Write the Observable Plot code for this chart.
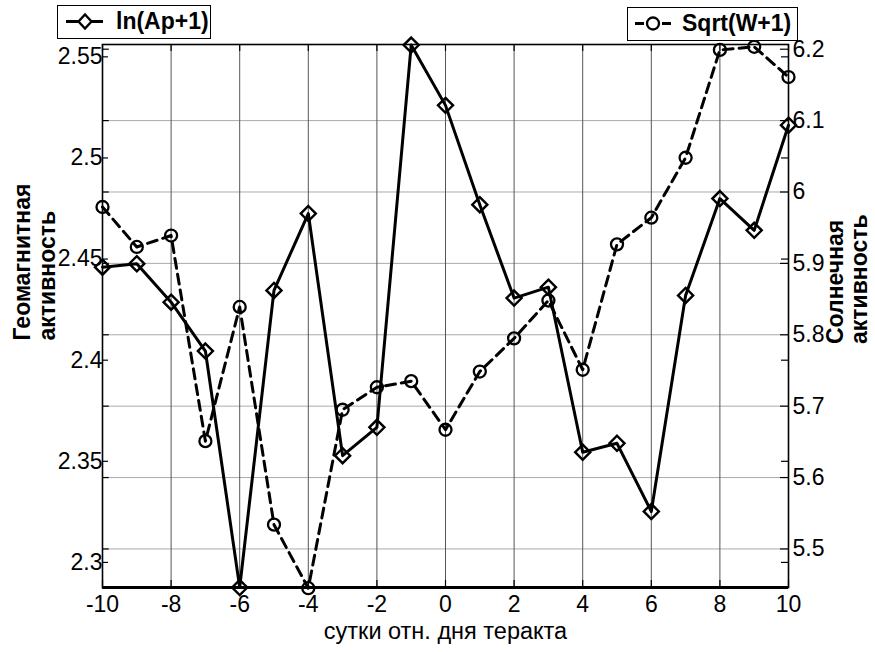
<!DOCTYPE html>
<html>
<head>
<meta charset="utf-8">
<script src="https://cdn.jsdelivr.net/npm/d3@7"></script>
<script src="https://cdn.jsdelivr.net/npm/@observablehq/plot@0.6"></script>
<style>
  html, body { margin: 0; padding: 0; background: #fff; }
  #wrap { position: relative; width: 875px; height: 652px; font-family: "Liberation Sans", Arial, sans-serif; }
  .legend { position: absolute; box-sizing: border-box; border: 1.5px solid #000; background: #fff;
            font-weight: bold; font-size: 23px; white-space: nowrap; }
  .legend svg { position: absolute; left: 0; top: 0; display: block; }
  .legend span { position: absolute; top: 50%; transform: translateY(-52%); }
</style>
</head>
<body>
<div id="wrap"></div>
<script>
// ---- data ----
const days = [-10,-9,-8,-7,-6,-5,-4,-3,-2,-1,0,1,2,3,4,5,6,7,8,9,10];
const lnAp = [2.446,2.4477,2.4287,2.4045,2.2876,2.4345,2.4725,2.3528,2.3668,2.5558,2.526,
              2.4769,2.4307,2.4361,2.3545,2.3589,2.3252,2.4320,2.4799,2.4642,2.5162];
const sqrtW = [5.979,5.923,5.939,5.651,5.839,5.534,5.445,5.695,5.7265,5.735,5.667,
               5.7485,5.795,5.848,5.751,5.9267,5.964,6.048,6.199,6.2034,6.161];
const xTicks = [-10,-8,-6,-4,-2,0,2,4,6,8,10];
const leftTicks = [2.3,2.35,2.4,2.45,2.5,2.55];
const rightTicks = [5.5,5.6,5.7,5.8,5.9,6,6.1,6.2];
const rightGrid = [5.5,5.6,5.7,5.8,5.9,6,6.1];
const leftDomain = [2.2876, 2.5561];
const rightDomain = [5.446, 6.2066];
const xLabel = "сутки отн. дня теракта";
const yLeftLabel = "Геомагнитная\nактивность";
const yRightLabel = "Солнечная\nактивность";
const seriesNames = ["ln(Ap+1)", "Sqrt(W+1)"];

// ---- layout ----
const W = 875, H = 652, mL = 102, mR = 87, mT = 44, mB = 65;
const plotW = W - mL - mR, plotH = H - mT - mB;

// map right-axis values into the left (shared) y scale
const toLeft = r => leftDomain[0] + (r - rightDomain[0]) / (rightDomain[1] - rightDomain[0]) * (leftDomain[1] - leftDomain[0]);
const fromLeft = l => rightDomain[0] + (l - leftDomain[0]) / (leftDomain[1] - leftDomain[0]) * (rightDomain[1] - rightDomain[0]);

const dataL = days.map((d, i) => ({day: d, v: lnAp[i]}));
const dataR = days.map((d, i) => ({day: d, v: toLeft(sqrtW[i])}));

// tick lengths in data units
const tx = 7 * 20 / plotW;
const ty = 7 * (leftDomain[1] - leftDomain[0]) / plotH;
const tyR = 8 * 20 / plotW;

const font = "Liberation Sans, Arial, sans-serif";

const chart = Plot.plot({
  width: W, height: H,
  marginLeft: mL, marginRight: mR, marginTop: mT, marginBottom: mB,
  style: {fontFamily: font, background: "#fff", color: "#000", overflow: "visible"},
  x: {domain: [-10, 10]},
  y: {domain: leftDomain},
  marks: [
    // grid
    Plot.ruleY(rightGrid, {y: d => toLeft(d), stroke: "#aaa", strokeWidth: 1}),
    Plot.ruleX(xTicks.slice(1, -1), {x: d => d, stroke: "#555", strokeWidth: 1}),
    // inward tick marks
    Plot.ruleX(xTicks, {x: d => d, y1: leftDomain[0], y2: leftDomain[0] + ty, stroke: "#000", strokeWidth: 1.2}),
    Plot.ruleX(xTicks, {x: d => d, y1: leftDomain[1], y2: leftDomain[1] - ty, stroke: "#000", strokeWidth: 1.2}),
    Plot.ruleY(leftTicks, {y: d => d, x1: -10, x2: -10 + tx * 0.85, stroke: "#000", strokeWidth: 1.2}),
    Plot.ruleY(leftTicks, {y: d => d, x1: 10, x2: 10 - tx, stroke: "#000", strokeWidth: 1.2}),
    Plot.ruleY(rightTicks, {y: d => toLeft(d), x1: 10, x2: 10 - tyR, stroke: "#000", strokeWidth: 1.2}),
    Plot.ruleY(rightTicks, {y: d => toLeft(d), x1: -10, x2: -10 + tyR * 0.85, stroke: "#000", strokeWidth: 1.2}),
    // frame
    Plot.frame({stroke: "#000", strokeWidth: 1.6}),
    Plot.ruleY([leftDomain[0]], {stroke: "#000", strokeWidth: 3.2}),
    // axes
    Plot.axisX({ticks: xTicks, tickSize: 0, tickPadding: 8, tickFormat: d => String(d), fontSize: 23, label: null}),
    Plot.axisY({anchor: "left", ticks: leftTicks, tickSize: 0, tickPadding: 0, tickFormat: d => String(d), fontSize: 23, label: null}),
    Plot.axisY({anchor: "right", ticks: rightTicks.map(toLeft), tickSize: 0, tickPadding: 4,
                tickFormat: d => String(+fromLeft(d).toFixed(1)), fontSize: 23, label: null}),
    // axis labels
    Plot.text([xLabel], {frameAnchor: "bottom", dy: 51, fontSize: 23.5, text: d => d}),
    Plot.text([yLeftLabel], {frameAnchor: "left", dx: -68, dy: 24.5, rotate: -90, textAnchor: "start",
                             lineHeight: 1.08, fontSize: 23, fontWeight: "bold", text: d => d}),
    Plot.text([yRightLabel], {frameAnchor: "right", dx: 59, dy: 28, rotate: -90, textAnchor: "start",
                              lineHeight: 1.05, fontSize: 23, fontWeight: "bold", text: d => d}),
    // series
    Plot.line(dataR, {x: "day", y: "v", stroke: "#000", strokeWidth: 3, strokeDasharray: "10,6"}),
    Plot.dot(dataR, {x: "day", y: "v", r: 6, stroke: "#000", strokeWidth: 2.3, fill: "none"}),
    Plot.line(dataL, {x: "day", y: "v", stroke: "#000", strokeWidth: 3}),
    Plot.dot(dataL, {x: "day", y: "v", symbol: "diamond2", r: 6.8, stroke: "#000", strokeWidth: 2.4, fill: "none"})
  ]
});

const wrap = document.getElementById("wrap");
wrap.appendChild(chart);

// legends
const ns = "http://www.w3.org/2000/svg";
function el(tag, attrs) {
  const e = document.createElementNS(ns, tag);
  for (const k in attrs) e.setAttribute(k, attrs[k]);
  return e;
}
function legend(left, top, w, h, name, textLeft, drawSymbol) {
  const div = document.createElement("div");
  div.className = "legend";
  Object.assign(div.style, {left: left + "px", top: top + "px", width: w + "px", height: h + "px"});
  const svg = el("svg", {width: w, height: h});
  drawSymbol(svg, h / 2 - 1.5);
  div.appendChild(svg);
  const span = document.createElement("span");
  span.textContent = name;
  span.style.left = textLeft + "px";
  div.appendChild(span);
  wrap.appendChild(div);
}
legend(57, 5, 154, 34, seriesNames[0], 58, (svg, cy) => {
  svg.appendChild(el("line", {x1: 8, x2: 45, y1: cy, y2: cy, stroke: "#000", "stroke-width": 3}));
  const cx = 27;
  svg.appendChild(el("path", {d: `M${cx},${cy-7}L${cx+6.5},${cy}L${cx},${cy+7}L${cx-6.5},${cy}Z`,
                              fill: "#fff", stroke: "#000", "stroke-width": 2.4}));
});
legend(627, 7, 171, 34, seriesNames[1], 54, (svg, cy) => {
  svg.appendChild(el("path", {d: `M7,${cy}h9M34,${cy}h9`, stroke: "#000", "stroke-width": 3}));
  svg.appendChild(el("circle", {cx: 25, cy: cy, r: 6, fill: "#fff", stroke: "#000", "stroke-width": 2.3}));
});
</script>
</body>
</html>
